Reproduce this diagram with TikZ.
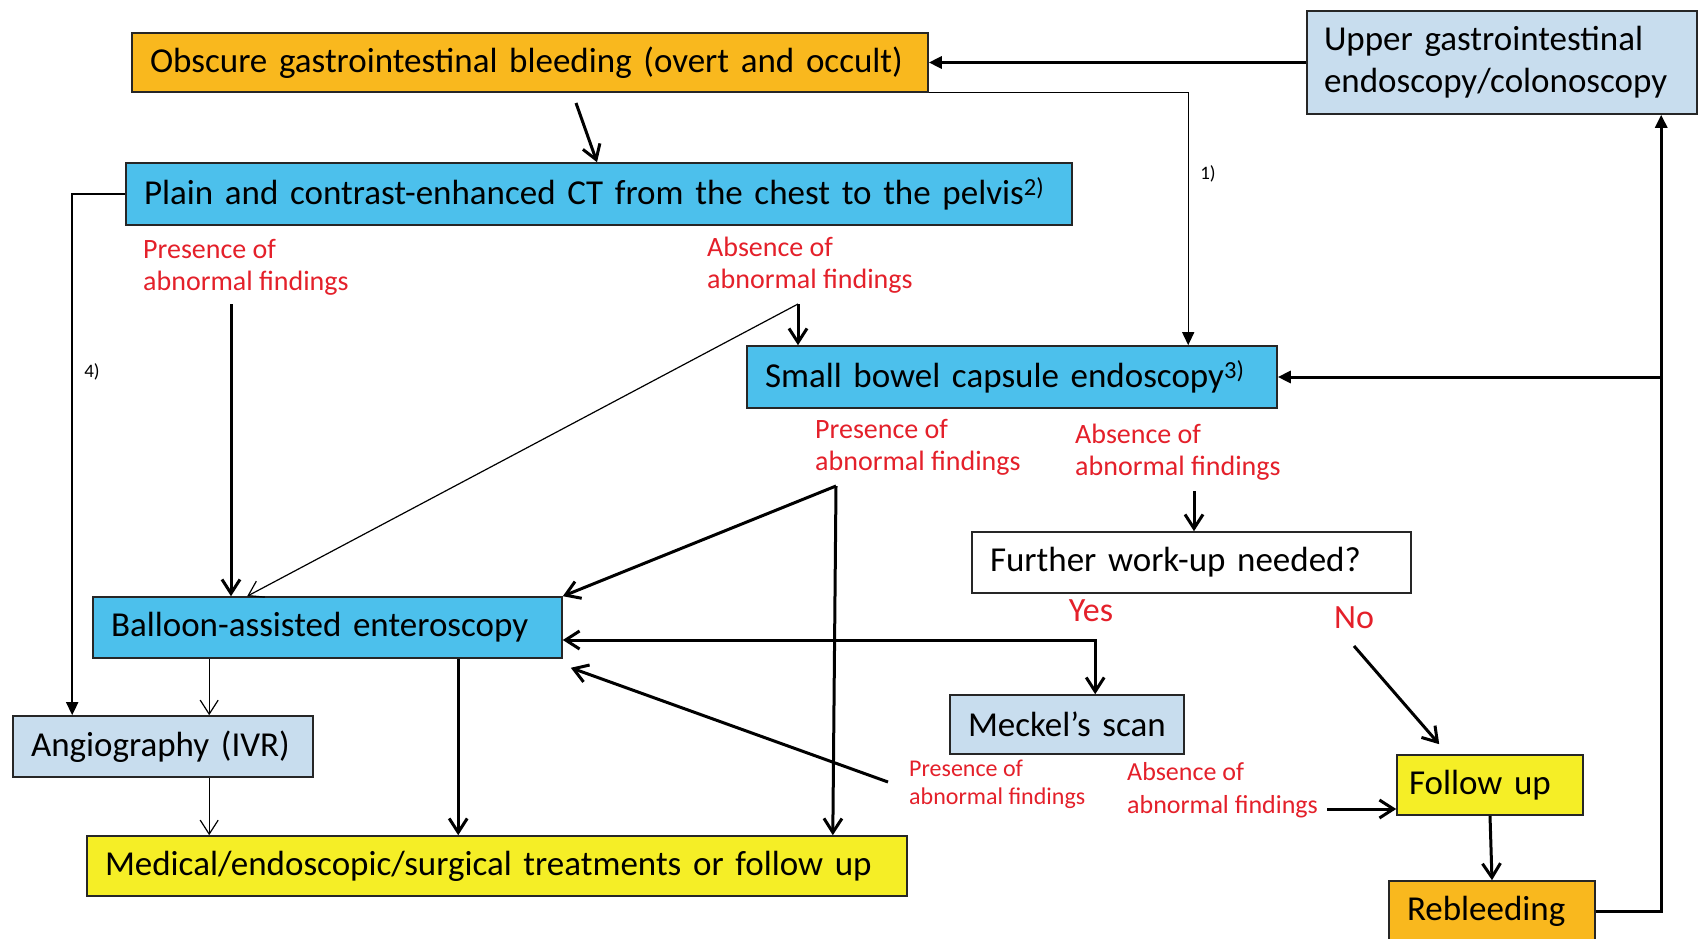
\documentclass[tikz,border=0pt]{standalone}
\usepackage{fontspec}
\setmainfont{Carlito}
\usetikzlibrary{arrows.meta,calc}

\definecolor{bleedorange}{RGB}{249,184,30}
\definecolor{scanblue}{RGB}{76,192,236}
\definecolor{paleblue}{RGB}{200,221,238}
\definecolor{fuyellow}{RGB}{245,238,38}
\definecolor{findred}{RGB}{228,32,42}

\begin{document}
\begin{tikzpicture}[x=1pt,y=-1pt,>={Straight Barb[length=14pt,width=18pt]},
	box/.style={draw=black!85,line width=1.6pt,inner xsep=18pt,inner ysep=0pt,align=left,font=\fontsize{35}{42}\selectfont},
	finding/.style={text=findred,align=left,inner sep=0pt,anchor=west,font=\fontsize{28}{32}\selectfont},
	thk/.style={line width=3pt,->},
	thn/.style={line width=1.2pt,->},
	tri/.style={-{Triangle[length=13pt,width=12pt]}}]
	\useasboundingbox (0,0) rectangle (1702,939);
	\fill[white] (0,0) rectangle (1702,939);
	% boxes
	\node[box,fill=bleedorange,text width=760pt,minimum height=59pt] (obgi) at (530,62.5) {Obscure gastrointestinal bleeding (overt and occult)};
	\node[box,fill=paleblue,text width=356pt,inner xsep=17pt,minimum height=103pt] (upper) at (1502,62.5) {Upper gastrointestinal\\endoscopy/colonoscopy};
	\node[box,fill=scanblue,text width=910pt,minimum height=62pt] (ct) at (599,194) {Plain and contrast-enhanced CT from the chest to the pelvis\textsuperscript{2)}};
	\node[box,fill=scanblue,text width=494pt,minimum height=62pt] (sbce) at (1012,377) {Small bowel capsule endoscopy\textsuperscript{3)}};
	\node[box,fill=white,text width=403pt,minimum height=61pt] (further) at (1191.5,562.5) {Further work-up needed?};
	\node[box,fill=scanblue,text width=433pt,minimum height=61pt] (bae) at (327.5,627.5) {Balloon-assisted enteroscopy};
	\node[box,fill=paleblue,text width=198pt,minimum height=59pt] (meckel) at (1067,724.5) {Meckel’s scan};
	\node[box,fill=paleblue,text width=264pt,minimum height=61pt] (angio) at (163,746.5) {Angiography (IVR)};
	\node[box,fill=fuyellow,text width=162pt,inner xsep=12pt,minimum height=60pt] (follow) at (1490,785) {Follow up};
	\node[box,fill=fuyellow,text width=784pt,minimum height=60pt] (medical) at (497,866) {Medical/endoscopic/surgical treatments or follow up};
	\node[box,fill=bleedorange,text width=170pt,minimum height=60pt] (rebleed) at (1492,911) {Rebleeding};

	% findings
	\node[finding] (pres1) at (143,267) {Presence of\\abnormal findings};
	\node[finding] (abs1) at (707,265.5) {Absence of\\abnormal findings};
	\node[finding] (pres2) at (815,447) {Presence of\\abnormal findings};
	\node[finding] (abs2) at (1075,452) {Absence of\\abnormal findings};
	\node[finding,font=\fontsize{24}{28}\selectfont] (pres3) at (909,784) {Presence of\\abnormal findings};
	\node[finding,font=\fontsize{26}{33}\selectfont] (abs3) at (1127,790) {Absence of\\abnormal findings};
	\node[text=findred,font=\fontsize{34}{40}\selectfont] (yes) at (1091,611) {Yes};
	\node[text=findred,font=\fontsize{34}{40}\selectfont] (no) at (1354,618) {No};
	\node[font=\fontsize{19}{22}\selectfont] (n1) at (1208,174) {1)};
	\node[font=\fontsize{19}{22}\selectfont] (n4) at (92,372) {4)};

	\coordinate (c1) at (231,304);
	\coordinate (c2) at (798,304);
	\coordinate (c3) at (836,486);
	\coordinate (c4) at (1194,491);
	\coordinate (c5) at (1354,646);
	\coordinate (c6) at (888,782);
	\coordinate (c7) at (1327,809);
	\coordinate (rail) at ($(upper.south west)+(355,0)$);

	% connectors
	\draw[thk] (576,103) -- ([xshift=-2pt]ct.north);
	\draw[line width=3pt,tri] (upper.west) -- (obgi.east);
	\draw[line width=1.3pt,tri] (obgi.south east) -| ($(sbce.north west)+(442,0)$);
	\draw[line width=1.8pt,tri] (ct.west) -| ($(angio.north west)+(60,0)$);
	\draw[thk] (c1) -- (c1 |- bae.north);
	\draw[thk] (c2) -- (c2 |- sbce.north);
	\draw[thn] (c2) -- ($(bae.north west)+(155,0)$);
	\draw[thk] (c3) -- (bae.north east);
	\draw[thk] (c3) -- ($(medical.north east)+(-75,0)$);
	\draw[thk] (c4) -- (c4 |- further.north);
	\draw[thk,<->] ($(bae.east)+(0,12.5)$) -| ($(meckel.north west)+(146,0)$);
	\draw[thk] (c5) -- ($(follow.north west)+(43,-10)$);
	\draw[thk] (c6) -- ($(bae.south east)+(8,9)$);
	\draw[thk] (c7) -- (c7 -| follow.west);
	\draw[thk] (follow.south) -- (rebleed.north);
	\draw[line width=3pt,tri] (rebleed.east) -| (rail);
	\draw[line width=3pt,tri] (rail |- sbce.east) -- (sbce.east);
	\draw[thn] ($(bae.south west)+(117,0)$) -- ($(angio.north west)+(197,0)$);
	\draw[thn] ($(angio.south west)+(197,0)$) -- ($(medical.north west)+(123,0)$);
	\draw[thk] ($(bae.south west)+(366,0)$) -- ($(medical.north west)+(372,0)$);
\end{tikzpicture}
\end{document}
